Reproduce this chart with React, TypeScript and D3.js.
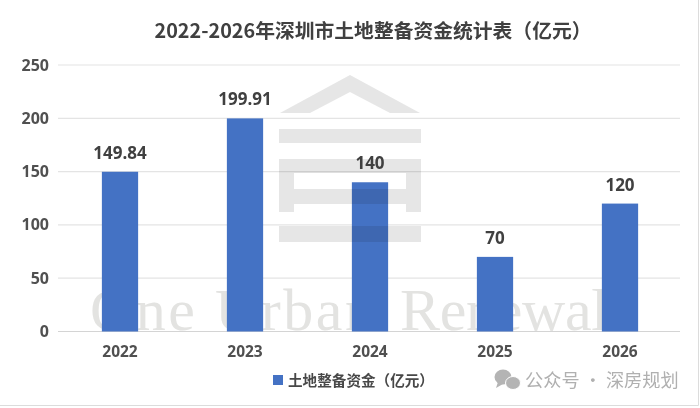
import { useEffect, useRef } from 'react';
import * as d3 from 'd3';

const years = ['2022', '2023', '2024', '2025', '2026'];
const funds = [149.84, 199.91, 140, 70, 120];
const yTicks = [0, 50, 100, 150, 200, 250];
const title = '2022-2026年深圳市土地整备资金统计表（亿元）';
const legendLabel = '土地整备资金（亿元）';
const watermarkWords = [
  { text: 'One', x: 90, len: 105 },
  { text: 'Urban', x: 215, len: 160 },
  { text: 'Renewal', x: 400, len: 208 },
];
const cjkFont = '"Noto Sans CJK SC", "Noto Sans", sans-serif';
const latinFont = '"Open Sans", "Noto Sans", sans-serif';

export default function App() {
  const svgRef = useRef<SVGSVGElement>(null);

  useEffect(() => {
    if (!svgRef.current) return;
    const svg = d3.select(svgRef.current);
    svg.selectAll('*').remove();

    const x = d3.scaleBand().domain(years).range([57.5, 682.5]).paddingInner(0.71).paddingOuter(0.355);
    const y = d3.scaleLinear().domain([0, 250]).range([331.5, 65]);

    svg.append('rect').attr('width', 700).attr('height', 408).attr('fill', '#fff');
    // photo edge of the screenshot
    svg.append('path').attr('d', 'M0,405.5H698.5V0').attr('fill', 'none').attr('stroke', '#dcdcdc').attr('stroke-width', 1);

    // Gridlines
    svg.append('g').selectAll('line').data(yTicks).enter().append('line')
      .attr('x1', 58).attr('x2', 680)
      .attr('y1', d => y(d)).attr('y2', d => y(d))
      .attr('stroke', d => d === 0 ? '#d4d4d4' : '#e4e4e4')
      .attr('stroke-width', 1.2);

    // Watermark text sits under the bars
    svg.append('g').selectAll('text').data(watermarkWords).enter().append('text')
      .text(d => d.text)
      .attr('x', d => d.x).attr('y', 330)
      .attr('textLength', d => d.len).attr('lengthAdjust', 'spacing')
      .attr('font-family', '"Liberation Serif", serif').attr('font-size', 60)
      .attr('fill', '#e3e3e1');

    // Bars
    svg.append('g').selectAll('rect').data(funds).enter().append('rect')
      .attr('x', (_, i) => x(years[i]) as number)
      .attr('y', d => y(d))
      .attr('width', x.bandwidth())
      .attr('height', d => y(0) - y(d))
      .attr('fill', '#4472c4');

    // House watermark over the bars
    svg.append('path')
      .attr('d', 'M350,75L420,113H390L350,92L310,113H280Z M279,129H421V143H279Z M279,159H421V212H406V204H294V212H279Z M294,173V189H406V173Z M279,226H421V242H279Z')
      .attr('fill', '#8c8c8c').attr('fill-opacity', 0.22).attr('fill-rule', 'evenodd')
      .style('mix-blend-mode', 'multiply');

    // Title
    svg.append('text').text(title)
      .attr('x', 373).attr('y', 38).attr('text-anchor', 'middle')
      .attr('font-family', cjkFont).attr('font-size', 19.8).attr('font-weight', 700)
      .attr('fill', '#404040');

    // Y axis labels
    svg.append('g').selectAll('text').data(yTicks).enter().append('text')
      .text(d => d)
      .attr('x', 49).attr('y', d => y(d) + 5.5).attr('text-anchor', 'end')
      .attr('font-family', latinFont).attr('font-size', 16).attr('font-weight', 700)
      .attr('fill', '#505050');

    // X axis labels
    svg.append('g').selectAll('text').data(years).enter().append('text')
      .text(d => d)
      .attr('x', d => (x(d) as number) + x.bandwidth() / 2).attr('y', 357).attr('text-anchor', 'middle')
      .attr('font-family', latinFont).attr('font-size', 15.5).attr('font-weight', 700)
      .attr('fill', '#505050');

    // Value labels
    svg.append('g').selectAll('text').data(funds).enter().append('text')
      .text(d => d)
      .attr('x', (_, i) => (x(years[i]) as number) + x.bandwidth() / 2)
      .attr('y', d => y(d) - 13).attr('text-anchor', 'middle')
      .attr('font-family', latinFont).attr('font-size', 17).attr('font-weight', 700)
      .attr('fill', '#404040');

    // Legend
    svg.append('rect').attr('x', 273).attr('y', 375).attr('width', 10).attr('height', 10).attr('fill', '#4472c4');
    svg.append('text').text(legendLabel)
      .attr('x', 288).attr('y', 386)
      .attr('font-family', cjkFont).attr('font-size', 14.6).attr('font-weight', 700)
      .attr('fill', '#484848');

    // WeChat mark
    const wechat = svg.append('g').attr('fill', '#b4b4b4');
    wechat.append('ellipse').attr('cx', 503).attr('cy', 377).attr('rx', 8.5).attr('ry', 7.5);
    wechat.append('path').attr('d', 'M498,382L496,388L503,384Z');
    wechat.append('ellipse').attr('cx', 513).attr('cy', 383).attr('rx', 7.5).attr('ry', 6.5).attr('stroke', '#fff').attr('stroke-width', 1);
    svg.append('text').text('公众号 · 深房规划')
      .attr('x', 525).attr('y', 387)
      .attr('font-family', cjkFont).attr('font-size', 18.2)
      .attr('fill', '#b0b0b0');
  }, []);

  return <svg ref={svgRef} width={700} height={408} style={{ position: 'absolute', left: 0, top: 0 }} />;
}
